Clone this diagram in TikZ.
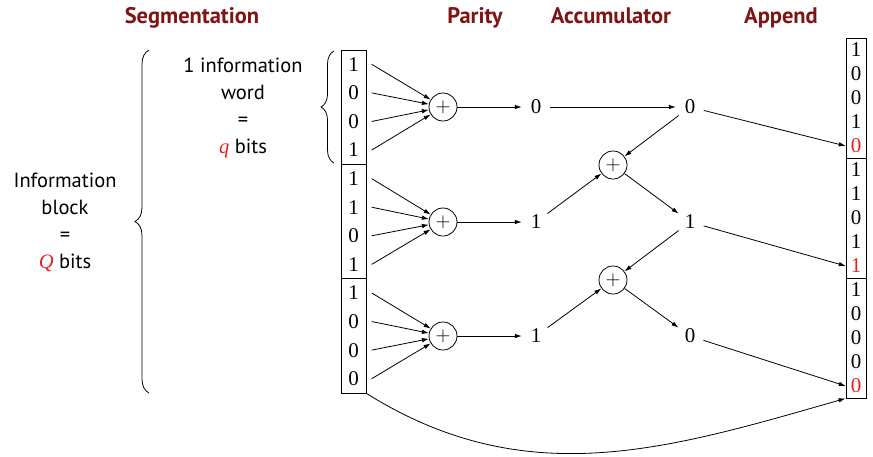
\documentclass[tikz,border=0pt]{standalone}
\usepackage[no-math]{fontspec}
\newfontfamily\sanstext{PT Sans}
\newfontfamily\digitfont{Liberation Serif}
\usetikzlibrary{arrows.meta,decorations.pathreplacing}
\definecolor{titlered}{RGB}{128,20,20}
\definecolor{hlred}{RGB}{232,30,36}
\begin{document}
\begin{tikzpicture}[x=1pt,y=-1pt,
  every node/.style={font=\fontsize{20.5}{27}\selectfont\sanstext},
  title/.style={font=\fontsize{22.5}{27}\selectfont\sanstext\bfseries, text=titlered, anchor=base},
  bit/.style={font=\fontsize{21}{24}\selectfont\digitfont, inner sep=0pt, minimum height=20pt},
  lbit/.style={bit, minimum width=36pt},
  rbit/.style={bit, minimum width=20pt},
  col/.style={draw, line width=0.8pt, inner sep=0pt},
  xorc/.style={circle, draw, line width=0.8pt, minimum size=28pt, inner sep=0pt, font=\fontsize{22}{24}\selectfont\rmfamily},
  val/.style={circle, minimum size=28pt, inner sep=0pt, font=\fontsize{21}{24}\selectfont\digitfont},
  arr/.style={-{Latex[length=7pt,width=4.5pt]}, line width=0.8pt},
  bracedec/.style={decorate, decoration={brace, amplitude=#1}, line width=0.8pt}
]
\useasboundingbox (0,0) rectangle (873,456);

% titles
\node[title] (tseg) at (192,23) {Segmentation};
\node[title] (tpar) at (475,23) {Parity};
\node[title] (tacc) at (611,23) {Accumulator};
\node[title] (tapp) at (781,23) {Append};

% left texts
\node[align=center] (blk) at (65,222) {Information\\block\\=\\\textcolor{hlred}{\digitfont\itshape Q} bits};
\node[align=center] (wrd) at (243,108) {1 information\\word\\=\\\textcolor{hlred}{\digitfont\itshape q} bits};

% braces
\draw[bracedec=14pt] (149,393) -- (149,50);
\draw[bracedec=13pt] (334,163) -- (334,51);

% left column
\foreach \k in {1,2,3}
  \node[col, minimum width=25pt, minimum height=114.33pt] (LB\k) at (353.5,{50+114.33*(\k-0.5)}) {};
\foreach \b [count=\i] in {1,0,0,1,1,1,0,1,1,0,0,0}
  \node[lbit] (L\i) at (353.5,{50+28.583*(\i-0.5)}) {\b};

% right column
\foreach \k in {1,2,3}
  \node[col, minimum width=20pt, minimum height=120pt] (RB\k) at (856,{38+120*(\k-0.5)}) {};
\foreach \b/\c [count=\i] in {1/black,0/black,0/black,1/black,0/hlred,
                               1/black,1/black,0/black,1/black,1/hlred,
                               1/black,0/black,0/black,0/black,0/hlred}
  \node[rbit, text=\c] (R\i) at (856,{38+24*(\i-0.5)}) {\b};

% parity xors and values
\node[xorc] (P1) at (443,107) {$+$};
\node[xorc] (P2) at (443,222) {$+$};
\node[xorc] (P3) at (443,336) {$+$};
\node[val] (V1) at (536,107) {0};
\node[val] (V2) at (536,222) {1};
\node[val] (V3) at (536,336) {1};

% accumulator
\node[val] (A1) at (690,107) {0};
\node[val] (A2) at (690,222) {1};
\node[val] (A3) at (690,336) {0};
\node[xorc] (X1) at (613,165) {$+$};
\node[xorc] (X2) at (613,280) {$+$};

% arrows into parity
\foreach \k in {1,2,3}
  \foreach \j in {1,...,4} {
    \pgfmathtruncatemacro\n{4*(\k-1)+\j}
    \draw[arr] (L\n.east) -- (P\k);
  }
\draw[arr] (P1) -- (V1);
\draw[arr] (P2) -- (V2);
\draw[arr] (P3) -- (V3);

\draw[arr] (V1) -- (A1);
\draw[arr] (A1) -- (X1);
\draw[arr] (V2) -- (X1);
\draw[arr] (X1) -- (A2);
\draw[arr] (A2) -- (X2);
\draw[arr] (V3) -- (X2);
\draw[arr] (X2) -- (A3);

\draw[arr] (A1) -- (R5.west);
\draw[arr] (A2) -- (R10.west);
\draw[arr] (A3) -- (R15.west);

\draw[arr] (LB3.south east) to[out=-32,in=196] (RB3.south west);
\end{tikzpicture}
\end{document}
